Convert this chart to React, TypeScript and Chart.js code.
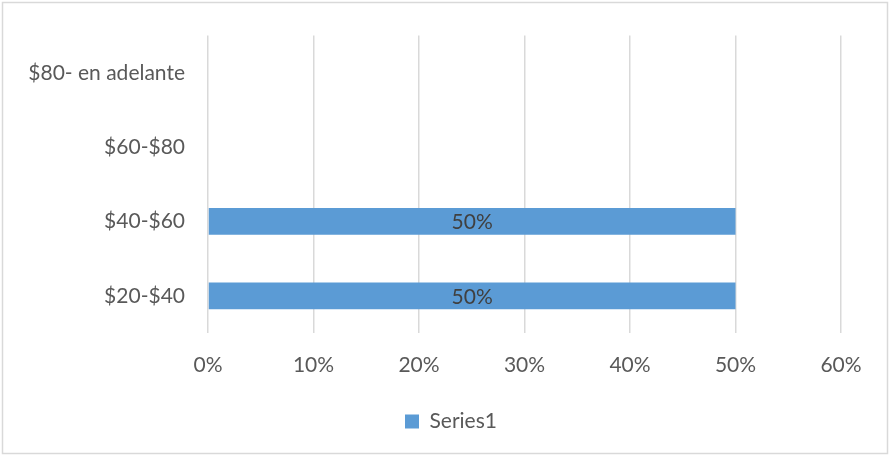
import React, { useEffect, useRef } from "react";
import { Chart, registerables } from "chart.js";

Chart.register(...registerables);

const categories = ["$20-$40", "$40-$60", "$60-$80", "$80- en adelante"];
const seriesName = "Series1";
const seriesValues = [0.5, 0.5, 0, 0];
const dataLabels = ["50%", "50%", "", ""];
const xTickMax = 0.6;
const xTickStep = 0.1;

const FONT = "Lato";
const FS = 21;
const TEXT = "#595959";

const borderPlugin = {
  id: "outerBorder",
  beforeDraw(chart: any) {
    const { ctx } = chart;
    ctx.save();
    ctx.fillStyle = "#ffffff";
    ctx.fillRect(0, 0, chart.width, chart.height);
    ctx.strokeStyle = "#D9D9D9";
    ctx.lineWidth = 1.5;
    ctx.strokeRect(2.5, 2.5, chart.width - 5, chart.height - 5);
    ctx.restore();
  },
};

const legendCenterPlugin = {
  id: "legendCenter",
  afterLayout(chart: any) {
    const lg = chart.legend;
    if (!lg) return;
    lg.left = 12;
    lg.right = chart.width;
    lg.width = chart.width - 12;
  },
};

const labelPlugin = {
  id: "barLabels",
  afterDatasetsDraw(chart: any) {
    const { ctx } = chart;
    const meta = chart.getDatasetMeta(0);
    ctx.save();
    ctx.fillStyle = "#404040";
    ctx.font = `${FS}px ${FONT}`;
    ctx.textAlign = "center";
    ctx.textBaseline = "middle";
    meta.data.forEach((bar: any, i: number) => {
      const txt = dataLabels[i];
      if (!txt) return;
      const base = bar.base;
      ctx.fillText(txt, (bar.x + base) / 2, bar.y + 1);
    });
    ctx.restore();
  },
};

export default function App() {
  const ref = useRef<HTMLCanvasElement | null>(null);
  useEffect(() => {
    document.body.style.margin = "0";
    const canvas = ref.current;
    if (!canvas) return;
    const chart = new Chart(canvas, {
      type: "bar",
      data: {
        labels: categories,
        datasets: [
          {
            label: seriesName,
            data: seriesValues,
            backgroundColor: "#5B9BD5",
            borderWidth: 0,
            barPercentage: 0.36,
            categoryPercentage: 1,
          },
        ],
      },
      options: {
        indexAxis: "y",
        responsive: false,
        animation: false,
        devicePixelRatio: 1,
        layout: { padding: { left: 0, right: 49, top: 26, bottom: 14 } },
        plugins: {
          tooltip: { enabled: false },
          legend: {
            position: "bottom",
            labels: {
              boxWidth: 14,
              boxHeight: 14,
              color: TEXT,
              font: { family: FONT, size: FS },
              padding: 10,
            },
          },
        },
        scales: {
          x: {
            min: 0,
            max: xTickMax,
            ticks: {
              stepSize: xTickStep,
              color: TEXT,
              font: { family: FONT, size: FS },
              padding: 20,
              callback: (v: any) => `${Math.round(Number(v) * 100)}%`,
            },
            grid: { color: "#D9D9D9", lineWidth: 1.5, drawTicks: false },
            border: { display: false },
            afterFit: (s: any) => {
              s.height = 68;
            },
          },
          y: {
            reverse: true,
            ticks: {
              color: TEXT,
              font: { family: FONT, size: FS },
              padding: 23,
            },
            grid: { display: false, drawTicks: false },
            border: { display: false },
            afterFit: (s: any) => {
              s.width = 208;
            },
          },
        },
      },
      plugins: [borderPlugin, legendCenterPlugin, labelPlugin],
    });
    return () => chart.destroy();
  }, []);
  return (
    <canvas
      ref={ref}
      width={890}
      height={456}
      style={{ display: "block", width: 890, height: 456 }}
    />
  );
}
